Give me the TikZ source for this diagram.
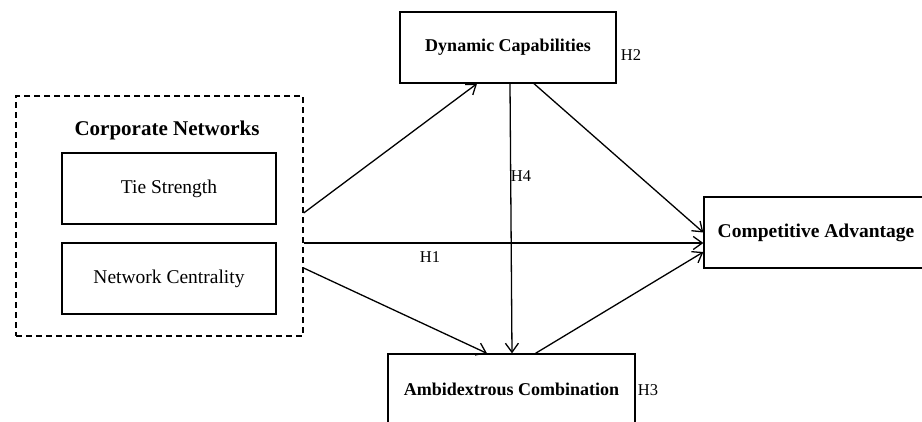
\documentclass[tikz,border=0pt]{standalone}
\usepackage{fontspec}
\setmainfont{Liberation Serif}
\usetikzlibrary{arrows.meta}
\begin{document}
\begin{tikzpicture}[x=1pt,y=-1pt,
  box/.style={draw,line width=1.3pt,inner sep=0pt,align=center},
  boldbox/.style={box,font=\fontsize{18}{20}\selectfont\bfseries},
  plainbox/.style={box,font=\fontsize{19.5}{22}\selectfont},
  arr/.style={line width=1.3pt,-{Straight Barb[length=9pt,width=13pt,line width=1.3pt]}},
  hlab/.style={font=\fontsize{16.5}{18}\selectfont,inner sep=0pt}]
\useasboundingbox (0,0) rectangle (922,421);
\clip (0,0) rectangle (922,421);
% group
\node[draw,dash pattern=on 6pt off 4pt,line width=1.3pt,minimum width=287pt,minimum height=240pt,inner sep=0pt] (cn) at (159.5,216) {};
\node[font=\fontsize{21}{24}\selectfont\bfseries,inner sep=0pt] (cntitle) at (167,130) {Corporate\ Networks};
\node[plainbox,minimum width=214pt,minimum height=71pt] (tie) at (169,188.5) {Tie Strength};
\node[plainbox,minimum width=214pt,minimum height=71pt] (nc) at (169,278.5) {Network Centrality};
% other boxes
\node[boldbox,minimum width=216pt,minimum height=71pt] (dyn) at (508,47.5) {\raisebox{-2pt}{Dynamic Capabilities}};
\node[boldbox,minimum width=247pt,minimum height=71pt] (amb) at (511.5,389.5) {\raisebox{-2pt}{Ambidextrous Combination}};
\node[boldbox,font=\fontsize{19.5}{22}\selectfont\bfseries,minimum width=224pt,minimum height=71pt] (ca) at (816,232.5) {Competitive Advantage};
% connectors
\coordinate (s1) at ([yshift=3pt]cn.east);
\coordinate (s2) at ([yshift=-27pt]cn.east);
\coordinate (s3) at ([yshift=-52pt]cn.east);
\draw[arr] (s1) -- ([xshift=-31pt]dyn.south);
\draw[arr] (s2) -- (s2 -| ca.west);
\draw[arr] (s3) -- ([xshift=-24.5pt]amb.north);
\draw[arr] ([xshift=2pt]dyn.south) -- ([xshift=0.5pt]amb.north);
\draw[arr] ([xshift=26pt]dyn.south) -- (ca.west);
\draw[arr] ([xshift=24pt]amb.north) -- ([yshift=-19.5pt]ca.west);
% labels
\node[hlab] (h1) at (430,257) {H1};
\node[hlab] (h2) at (631,55) {H2};
\node[hlab] (h3) at (648,390) {H3};
\node[hlab] (h4) at (521,176) {H4};
\end{tikzpicture}
\end{document}
